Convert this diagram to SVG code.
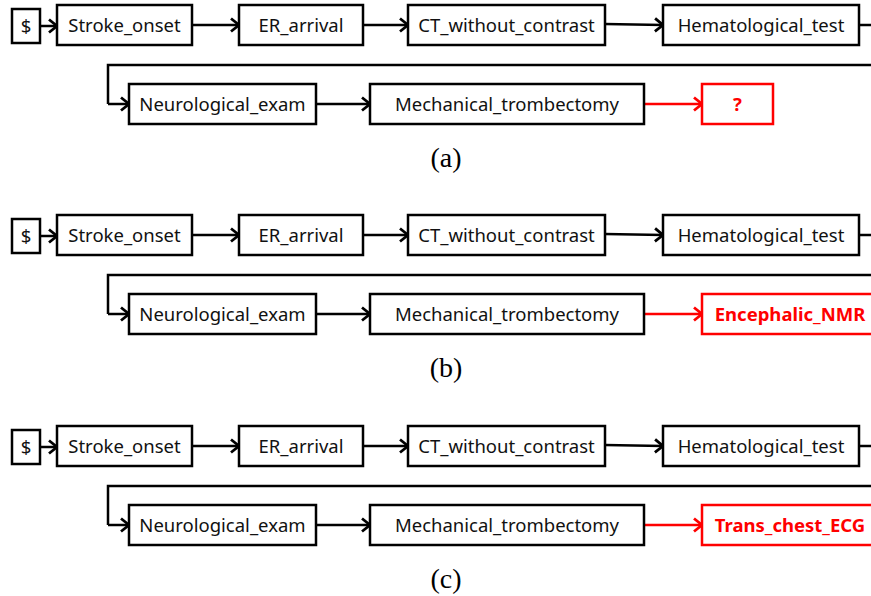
<svg xmlns="http://www.w3.org/2000/svg" width="871" height="596" viewBox="0 0 871 596">
<style>
.box{fill:#fff;stroke:#000;stroke-width:2.5}
.rbox{fill:#fff;stroke:#f00;stroke-width:2.5}
.t{font-family:"Noto Sans","Open Sans",sans-serif;font-size:18.5px;fill:#111;text-anchor:middle}
.rt{font-family:"Noto Sans","Open Sans",sans-serif;font-size:18.5px;font-weight:bold;fill:#f00;text-anchor:middle}
.ln{fill:none;stroke:#000;stroke-width:2.5}
.arr{fill:none;stroke:#000;stroke-width:2.5;marker-end:url(#ah)}
.rarr{fill:none;stroke:#f00;stroke-width:2.5;marker-end:url(#rah)}
.cap{font-family:"Liberation Serif","DejaVu Serif",serif;font-size:28px;fill:#000;text-anchor:middle}
</style>
<defs>
<marker id="ah" markerUnits="userSpaceOnUse" markerWidth="14" markerHeight="16" refX="11" refY="8" orient="auto">
<path d="M3,1.5 L11,8 L3,14.5" fill="none" stroke="#000" stroke-width="2.8"/>
</marker>
<marker id="rah" markerUnits="userSpaceOnUse" markerWidth="14" markerHeight="16" refX="11" refY="8" orient="auto">
<path d="M3,1.5 L11,8 L3,14.5" fill="none" stroke="#f00" stroke-width="2.8"/>
</marker>
</defs>
<rect width="871" height="596" fill="#fff"/>

<!-- Panel a -->
<g id="panel-a">
<g id="a-connectors">
<path class="arr" d="M40,26 H57"/>
<path class="arr" d="M192,25 H239"/>
<path class="arr" d="M363,25 H408"/>
<path class="arr" d="M605,24 L663,25"/>
<path class="ln" d="M859,25 H873"/>
<path class="ln" d="M873,65 H108 V104"/>
<path class="arr" d="M108,104 H129"/>
<path class="arr" d="M316,104 H370"/>
<path class="rarr" d="M644,104 H702"/>
</g>
<g id="a-start"><rect class="box" x="12" y="9" width="28" height="34"/><text class="t" x="26" y="33">$</text></g>
<g id="a-stroke"><rect class="box" x="57" y="5" width="135" height="40"/><text class="t" x="124.5" y="32">Stroke_onset</text></g>
<g id="a-er"><rect class="box" x="239" y="5" width="124" height="40"/><text class="t" x="301" y="32">ER_arrival</text></g>
<g id="a-ct"><rect class="box" x="408" y="5" width="197" height="40"/><text class="t" x="506.5" y="32">CT_without_contrast</text></g>
<g id="a-hema"><rect class="box" x="663" y="5" width="196" height="40"/><text class="t" x="761" y="32">Hematological_test</text></g>
<g id="a-neuro"><rect class="box" x="129" y="84" width="187" height="40"/><text class="t" x="222.5" y="111">Neurological_exam</text></g>
<g id="a-mech"><rect class="box" x="370" y="84" width="274" height="40"/><text class="t" x="507" y="111">Mechanical_trombectomy</text></g>
<g id="a-next"><rect class="rbox" x="702" y="84" width="71" height="40"/><text class="rt" x="737.5" y="111">?</text></g>
<text class="cap" x="446" y="167">(a)</text>
</g>

<!-- Panel b -->
<g id="panel-b" transform="translate(0,210)">
<g id="b-connectors">
<path class="arr" d="M40,26 H57"/>
<path class="arr" d="M192,25 H239"/>
<path class="arr" d="M363,25 H408"/>
<path class="arr" d="M605,24 L663,25"/>
<path class="ln" d="M859,25 H873"/>
<path class="ln" d="M873,65 H108 V104"/>
<path class="arr" d="M108,104 H129"/>
<path class="arr" d="M316,104 H370"/>
<path class="rarr" d="M644,104 H702"/>
</g>
<g id="b-start"><rect class="box" x="12" y="9" width="28" height="34"/><text class="t" x="26" y="33">$</text></g>
<g id="b-stroke"><rect class="box" x="57" y="5" width="135" height="40"/><text class="t" x="124.5" y="32">Stroke_onset</text></g>
<g id="b-er"><rect class="box" x="239" y="5" width="124" height="40"/><text class="t" x="301" y="32">ER_arrival</text></g>
<g id="b-ct"><rect class="box" x="408" y="5" width="197" height="40"/><text class="t" x="506.5" y="32">CT_without_contrast</text></g>
<g id="b-hema"><rect class="box" x="663" y="5" width="196" height="40"/><text class="t" x="761" y="32">Hematological_test</text></g>
<g id="b-neuro"><rect class="box" x="129" y="84" width="187" height="40"/><text class="t" x="222.5" y="111">Neurological_exam</text></g>
<g id="b-mech"><rect class="box" x="370" y="84" width="274" height="40"/><text class="t" x="507" y="111">Mechanical_trombectomy</text></g>
<g id="b-next"><rect class="rbox" x="702" y="84" width="180" height="40"/><text class="rt" x="790" y="111">Encephalic_NMR</text></g>
<text class="cap" x="446" y="167">(b)</text>
</g>

<!-- Panel c -->
<g id="panel-c" transform="translate(0,421)">
<g id="c-connectors">
<path class="arr" d="M40,26 H57"/>
<path class="arr" d="M192,25 H239"/>
<path class="arr" d="M363,25 H408"/>
<path class="arr" d="M605,24 L663,25"/>
<path class="ln" d="M859,25 H873"/>
<path class="ln" d="M873,65 H108 V104"/>
<path class="arr" d="M108,104 H129"/>
<path class="arr" d="M316,104 H370"/>
<path class="rarr" d="M644,104 H702"/>
</g>
<g id="c-start"><rect class="box" x="12" y="9" width="28" height="34"/><text class="t" x="26" y="33">$</text></g>
<g id="c-stroke"><rect class="box" x="57" y="5" width="135" height="40"/><text class="t" x="124.5" y="32">Stroke_onset</text></g>
<g id="c-er"><rect class="box" x="239" y="5" width="124" height="40"/><text class="t" x="301" y="32">ER_arrival</text></g>
<g id="c-ct"><rect class="box" x="408" y="5" width="197" height="40"/><text class="t" x="506.5" y="32">CT_without_contrast</text></g>
<g id="c-hema"><rect class="box" x="663" y="5" width="196" height="40"/><text class="t" x="761" y="32">Hematological_test</text></g>
<g id="c-neuro"><rect class="box" x="129" y="84" width="187" height="40"/><text class="t" x="222.5" y="111">Neurological_exam</text></g>
<g id="c-mech"><rect class="box" x="370" y="84" width="274" height="40"/><text class="t" x="507" y="111">Mechanical_trombectomy</text></g>
<g id="c-next"><rect class="rbox" x="702" y="84" width="180" height="40"/><text class="rt" x="790" y="111">Trans_chest_ECG</text></g>
<text class="cap" x="446" y="167">(c)</text>
</g>
</svg>
